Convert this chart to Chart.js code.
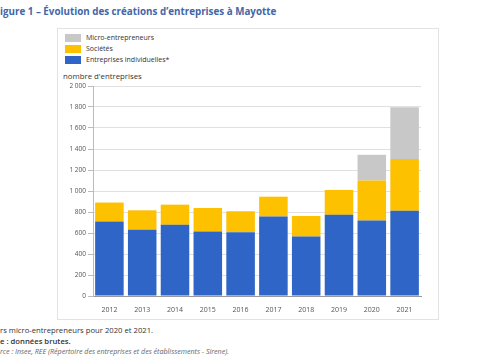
<!DOCTYPE html>
<html><head><meta charset="utf-8">
<script src="https://cdn.jsdelivr.net/npm/chart.js@4/dist/chart.umd.min.js"></script>
<style>
body{margin:0;width:485px;height:360px;background:#fff;font-family:"Open Sans",sans-serif;position:relative;overflow:hidden}
#title{position:absolute;left:0;top:5px;font-size:9.8px;font-weight:bold;color:#4466a6;white-space:nowrap}
#box{position:absolute;left:57px;top:28px;width:380px;height:290px;border:1px solid #e2e2e2}
#legend{position:absolute;left:65px;top:32px;font-size:7px;color:#333}
.li{height:11px;display:flex;align-items:center;white-space:nowrap}
.sw{width:16px;height:8px;margin-right:5px}
#ytitle{position:absolute;left:63px;top:71px;font-size:7.8px;color:#333;white-space:nowrap}
#wrap{position:absolute;left:57px;top:80px;width:381px;height:235px}
.note{position:absolute;left:0;font-size:7.7px;color:#333;white-space:nowrap}
</style></head><body>
<div id="title">igure 1 – Évolution des créations d’entreprises à Mayotte</div>
<div id="box"></div>
<div id="legend"></div>
<div id="ytitle">nombre d'entreprises</div>
<div id="wrap"><canvas id="c"></canvas></div>
<div class="note" style="top:325px">rs micro-entrepreneurs pour 2020 et 2021.</div>
<div class="note" style="top:336px;font-weight:600">e : données brutes.</div>
<div class="note" style="top:346px;font-style:italic;color:#666;font-size:7.1px">rce : Insee, REE (Répertoire des entreprises et des établissements - Sirene).</div>
<script>
const years = ["2012","2013","2014","2015","2016","2017","2018","2019","2020","2021"];
const entreprisesIndividuelles = [710, 630, 678, 614, 607, 757, 566, 773, 718, 812];
const societes = [180, 186, 192, 224, 200, 189, 196, 237, 382, 492];
const microEntrepreneurs = [0, 0, 0, 0, 0, 0, 0, 0, 245, 493];
const seriesNames = ["Entreprises individuelles*", "Sociétés", "Micro-entrepreneurs"];
const seriesColors = ["#2e65c6", "#fdc100", "#c8c8c8"];
const yTicks = [0,200,400,600,800,1000,1200,1400,1600,1800,2000];

const datasets = [entreprisesIndividuelles, societes, microEntrepreneurs].map((d,i)=>({
  label: seriesNames[i], data: d, backgroundColor: seriesColors[i],
  barPercentage: 0.87, categoryPercentage: 1.0, borderWidth: 0
}));

const lg = document.getElementById('legend');
for (let i = datasets.length-1; i>=0; i--) {
  const r = document.createElement('div'); r.className='li';
  r.innerHTML = '<span class="sw" style="background:'+seriesColors[i]+'"></span>'+seriesNames[i];
  lg.appendChild(r);
}

const fmt = v => String(v).replace(/\B(?=(\d{3})+(?!\d))/g, '\u00A0');

new Chart(document.getElementById('c'), {
  type: 'bar',
  data: { labels: years, datasets },
  options: {
    responsive: true, maintainAspectRatio: false, animation: false,
    layout: { padding: { top: 6, right: 17, left: 0, bottom: 0 } },
    plugins: { legend: { display: false }, tooltip: { enabled: false } },
    scales: {
      x: {
        stacked: true,
        grid: { display: false },
        border: { color: '#999', width: 1 },
        ticks: { color: '#555', font: { size: 7, family: 'Open Sans' }, padding: 2 },
        afterFit: s => { s.height = 19; }
      },
      y: {
        stacked: true, min: 0, max: 2000,
        afterBuildTicks: s => { s.ticks = yTicks.map(v=>({value:v})); },
        grid: { color: '#e0e0e0', tickLength: 5, tickColor: '#bbb' },
        border: { color: '#bbb' },
        ticks: { color: '#555', font: { size: 6.5, family: 'Open Sans' }, padding: 2, callback: v => fmt(v) },
        afterFit: s => { s.width = 36; }
      }
    }
  }
});
</script>
</body></html>
